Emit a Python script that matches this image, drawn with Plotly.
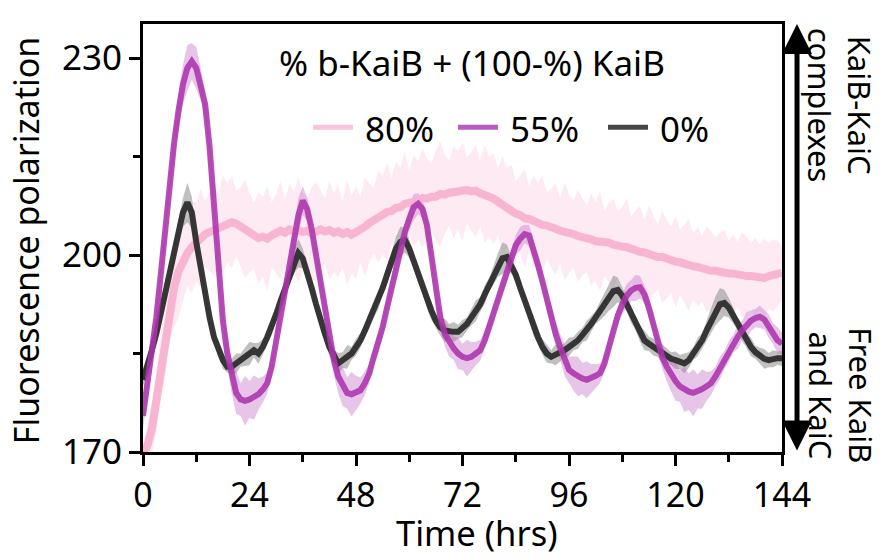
import plotly.graph_objects as go

# time axis (hours), one reading per hour
hours = list(range(0, 145))

# mean fluorescence polarization, 0% b-KaiB
fp_0 = [181, 183, 185.5, 188, 191, 194, 197, 200.5, 203.5, 206.5,
        208, 206.5, 202, 198, 194, 190.5, 187.5, 185.5, 184, 183,
        183, 183.5, 184, 184.5, 185, 185.5, 185, 186, 187.5, 189,
        191, 193, 195, 197, 199, 200.3, 199.5, 197.5, 195, 192.5,
        190, 188, 186, 184.5, 183.5, 184, 184.5, 185, 186, 187,
        188.5, 190, 191.5, 193, 195, 197, 199, 201, 202, 202.3,
        201, 199, 197, 195, 193, 191.5, 190, 189, 188.5, 188.3,
        188.3, 188.3, 188.8, 189.5, 190.5, 191.5, 192.5, 194, 195.5, 197,
        198.5, 199.5, 199.7, 198.5, 197, 195, 193, 191, 189, 187.5,
        186, 185, 184.5, 184.8, 185, 185.5, 186, 186.5, 187, 187.8,
        188.5, 189.5, 190.5, 191.5, 192.5, 193.5, 194.5, 194.7, 193.8, 192.5,
        191, 189.5, 188, 187, 186.5, 186, 185.5, 185, 184.6, 184.2,
        184, 183.7, 183.5, 184, 185, 186, 187, 188.5, 190, 191.5,
        192.5, 192.7, 192, 190.8, 189.5, 188.2, 187, 186, 185.2, 184.7,
        184.2, 184, 184.2, 184.3, 184.3]

# mean fluorescence polarization, 55% b-KaiB
fp_55 = [175.5, 180, 185, 190.5, 197, 204, 211, 217, 222, 226,
         228.5, 229.5, 228.5, 226, 223, 216.5, 207, 198, 190, 185,
         181.5, 179, 178, 177.8, 178, 178.3, 178.8, 179.5, 180.5, 183,
         187, 191, 194.5, 198.5, 202.5, 206, 208.3, 207, 204, 200,
         196, 191.5, 187.5, 184, 181.5, 180, 179, 178.8, 179, 179.4,
         180.5, 182, 184.5, 186.5, 189, 192, 195, 198.5, 201, 203.5,
         205.5, 207.3, 207.8, 207, 204.5, 200, 194, 190.5, 188, 186.7,
         185.8, 185, 184.5, 184.3, 184.5, 185, 185.5, 187, 189, 191,
         193.5, 195.5, 197.5, 199.5, 201.5, 202.5, 203.2, 203, 201, 198.5,
         196, 193, 190.5, 188, 186, 184, 182.5, 182, 181.5, 181.2,
         181, 181.2, 181.6, 182, 183.5, 186, 188.5, 190.8, 192.5, 193.8,
         194.6, 195, 195.1, 194, 192, 189.5, 186.5, 184.5, 183, 181.8,
         180.8, 180, 179.5, 179.2, 179, 179.2, 179.6, 180, 180.5, 181.5,
         182.8, 184, 185.3, 186.5, 187.5, 188.5, 189.3, 190, 190.4, 190.6,
         190.2, 189.2, 188, 187, 186.5]

# mean fluorescence polarization, 80% b-KaiB
fp_80 = [169.5, 171, 173.5, 178, 183, 187.5, 192, 195, 197.5, 199,
         200.3, 201.2, 202, 202.6, 203.2, 203.5, 203.8, 204.3, 204.6, 204.9,
         205, 204.8, 204.3, 204, 203.4, 203, 202.6, 202.8, 202.5, 203,
         203.3, 203.7, 203.4, 203.9, 203.6, 203.8, 203.5, 203.7, 203.3, 203.6,
         203.9, 203.6, 203.8, 203.4, 203.6, 203.2, 203.5, 203.1, 203.4, 203.9,
         204.3, 204.9, 205.2, 205.8, 206.1, 206.6, 206.7, 207.2, 207.3, 207.8,
         207.9, 208.3, 208.3, 208.7, 208.6, 208.9, 208.9, 209.3, 209.2, 209.5,
         209.6, 209.8, 209.7, 209.9, 209.7, 209.8, 209.4, 209.3, 208.9, 208.6,
         208.1, 207.6, 207.1, 206.8, 206.3, 206.1, 205.6, 205.5, 205.1, 205.0,
         204.6, 204.5, 204.1, 204.0, 203.7, 203.6, 203.3, 203.2, 202.9, 202.8,
         202.5, 202.4, 202.1, 202.1, 201.8, 201.9, 201.6, 201.6, 201.3, 201.2,
         200.9, 200.8, 200.5, 200.4, 200.1, 200.0, 199.7, 199.7, 199.4, 199.3,
         199.0, 198.9, 198.6, 198.5, 198.3, 198.2, 197.9, 197.9, 197.6, 197.6,
         197.4, 197.4, 197.2, 197.2, 197.0, 197.0, 196.8, 196.8, 196.6, 196.6,
         196.5, 196.8, 196.9, 197.2, 197.3]

# replicate spread (half-width of the shaded band)
sd_0 = [1.0, 1.2, 0.8, 1.1, 0.9, 1.2, 1.0, 1.4, 1.6, 2.2,
        3.0, 2.4, 1.5, 1.1, 0.9, 1.2, 0.8, 1.0, 1.3, 0.9,
        1.2, 1.5, 1.0, 1.4, 1.8, 1.1, 1.6, 1.2, 1.0, 1.3,
        0.9, 1.2, 1.0, 1.4, 1.8, 2.2, 1.5, 1.1, 1.0, 1.3,
        0.9, 1.2, 1.4, 1.1, 1.6, 1.2, 1.8, 1.0, 1.3, 1.1,
        0.9, 1.2, 1.0, 1.3, 1.1, 1.5, 1.2, 1.8, 2.3, 1.9,
        1.4, 1.0, 1.2, 0.9, 1.1, 1.4, 1.0, 1.3, 1.8, 1.2,
        1.5, 1.1, 1.3, 1.0, 1.2, 1.6, 1.1, 1.4, 1.0, 1.5,
        1.8, 2.4, 1.9, 1.3, 1.0, 1.2, 0.9, 1.1, 1.3, 1.0,
        1.2, 1.4, 1.0, 1.6, 1.2, 1.1, 1.4, 1.0, 1.3, 1.1,
        1.5, 1.2, 1.0, 1.4, 1.8, 2.0, 2.4, 1.9, 1.4, 1.1,
        1.3, 1.0, 1.2, 1.5, 1.1, 1.3, 1.0, 1.4, 1.2, 1.0,
        1.3, 1.1, 1.5, 1.2, 1.0, 1.4, 1.1, 1.6, 1.9, 2.2,
        2.5, 2.0, 1.5, 1.2, 1.0, 1.3, 1.1, 1.4, 1.0, 1.2,
        1.5, 1.1, 1.3, 1.0, 1.2]

sd_55 = [2.0, 1.5, 1.8, 1.4, 1.6, 1.9, 1.5, 2.2, 2.6, 3.0,
         3.5, 2.8, 3.2, 2.5, 2.0, 1.6, 1.4, 1.8, 1.5, 2.2,
         2.6, 3.2, 2.5, 3.8, 2.8, 3.4, 2.4, 2.0, 1.6, 1.4,
         1.8, 1.5, 1.3, 1.6, 2.0, 2.6, 2.2, 1.8, 1.5, 1.3,
         1.6, 1.4, 1.8, 2.2, 2.6, 3.0, 2.4, 3.4, 2.6, 2.0,
         1.8, 1.5, 1.3, 1.6, 1.4, 1.2, 1.5, 1.8, 1.6, 1.4,
         1.7, 2.0, 1.6, 1.4, 1.8, 1.5, 1.3, 1.6, 1.9, 2.2,
         1.8, 2.4, 2.0, 2.8, 2.2, 1.8, 1.6, 1.4, 1.3, 1.5,
         1.2, 1.4, 1.6, 1.3, 1.5, 1.8, 1.4, 1.6, 1.3, 1.5,
         1.2, 1.4, 1.6, 1.8, 2.0, 2.4, 2.0, 2.6, 3.0, 2.4,
         2.8, 2.2, 1.8, 1.5, 1.3, 1.6, 1.4, 1.2, 1.5, 1.8,
         1.6, 2.0, 1.7, 1.4, 1.6, 1.3, 1.5, 1.8, 2.2, 2.6,
         3.0, 2.4, 3.4, 2.8, 3.6, 2.6, 3.0, 2.2, 1.8, 1.5,
         1.7, 1.4, 1.6, 1.3, 1.8, 1.5, 2.0, 1.6, 1.4, 1.7,
         1.5, 1.8, 1.6, 2.0, 1.7]

sd_80 = [2.0, 3.0, 4.0, 5.0, 5.0, 6.0, 5.0, 6.0, 7.0, 6.0,
         5.0, 7.0, 6.0, 7.5, 5.0, 6.0, 7.0, 5.0, 7.5, 6.0,
         7.0, 5.0, 6.0, 7.5, 6.0, 5.0, 7.0, 6.0, 8.0, 5.0,
         6.0, 7.5, 5.0, 7.0, 6.0, 8.0, 6.0, 5.0, 7.0, 7.5,
         6.0, 5.0, 7.5, 6.0, 7.0, 5.0, 8.0, 6.0, 7.0, 5.0,
         7.5, 6.0, 5.0, 7.0, 6.0, 7.5, 5.0, 7.0, 6.0, 8.0,
         5.0, 7.0, 6.0, 7.5, 6.0, 5.0, 7.0, 8.0, 6.0, 5.0,
         7.0, 6.0, 7.5, 5.0, 6.0, 7.0, 5.0, 7.5, 6.0, 7.0,
         5.0, 7.5, 6.0, 7.0, 5.0, 6.0, 7.5, 5.0, 7.0, 6.0,
         7.5, 5.0, 6.0, 7.0, 5.0, 7.5, 6.0, 5.0, 7.0, 6.0,
         5.0, 7.0, 6.0, 7.5, 5.0, 6.0, 7.0, 5.0, 6.0, 7.5,
         5.0, 6.0, 7.0, 5.0, 7.5, 6.0, 5.0, 7.0, 6.0, 5.0,
         7.0, 5.0, 6.0, 7.0, 5.0, 6.0, 5.0, 6.5, 6.0, 5.0,
         6.0, 6.5, 5.0, 6.0, 5.0, 6.5, 6.0, 5.0, 6.0, 5.0,
         6.0, 5.0, 5.5, 5.0, 4.0]

# name, mean, spread, line colour, band colour, line width, legend swatch colour
series = [
    ("80%", fp_80, sd_80, "rgba(247,178,208,0.95)", "rgba(253,214,231,0.50)", 8, "#fbc3de"),
    ("0%", fp_0, sd_0, "rgba(45,45,45,0.95)", "rgba(140,140,140,0.55)", 6, "#474747"),
    ("55%", fp_55, sd_55, "rgba(172,52,172,0.88)", "rgba(196,110,200,0.40)", 6, "#b95cc0"),
]
legend_order = ["80%", "55%", "0%"]

FONT = "Noto Sans, Open Sans, DejaVu Sans, sans-serif"

fig = go.Figure()

# shaded spread bands first, drawn under every mean line
for name, mean, sd, line_col, band_col, lw, sw in series:
    upper = [m + s for m, s in zip(mean, sd)]
    lower = [m - s for m, s in zip(mean, sd)]
    fig.add_trace(go.Scatter(
        x=hours + hours[::-1],
        y=upper + lower[::-1],
        fill="toself",
        fillcolor=band_col,
        line=dict(width=0),
        hoverinfo="skip",
        showlegend=False,
    ))

for name, mean, sd, line_col, band_col, lw, sw in series:
    fig.add_trace(go.Scatter(
        x=hours, y=mean, mode="lines", name=name,
        line=dict(color=line_col, width=lw),
        showlegend=False,
    ))

fig.update_layout(
    width=883, height=559,
    margin=dict(l=143, r=101, t=24, b=107),
    paper_bgcolor="white", plot_bgcolor="white",
    font=dict(family=FONT, size=34, color="black"),
    showlegend=False,
    xaxis=dict(
        range=[0, 144], tickmode="linear", tick0=0, dtick=24,
        ticks="outside", ticklen=11, tickwidth=3, tickcolor="black",
        minor=dict(dtick=12, ticks="outside", ticklen=7, tickwidth=3, tickcolor="black"),
        showline=True, linewidth=3, linecolor="black", mirror=True,
        showgrid=False, zeroline=False,
        tickfont=dict(size=34),
    ),
    yaxis=dict(
        range=[170, 235.2], tickmode="array", tickvals=[170, 200, 230],
        ticks="outside", ticklen=11, tickwidth=3, tickcolor="black",
        minor=dict(tickmode="array", tickvals=[185, 215], ticks="outside",
                   ticklen=7, tickwidth=3, tickcolor="black"),
        showline=True, linewidth=3, linecolor="black", mirror=True,
        showgrid=False, zeroline=False,
        tickfont=dict(size=35),
    ),
)

# axis titles
fig.add_annotation(
    text="Time (hrs)", xref="paper", yref="paper", x=0.523, y=-0.2477,
    showarrow=False, xanchor="center", yanchor="bottom", font=dict(size=34.5),
)
fig.add_annotation(
    text="Fluorescence polarization", xref="paper", yref="paper",
    x=-0.183, y=0.495, textangle=-90, showarrow=False,
    xanchor="center", yanchor="middle", font=dict(size=34),
)

# heading above the legend
fig.add_annotation(
    text="% b-KaiB + (100-%) KaiB", xref="paper", yref="paper",
    x=0.515, y=0.909, showarrow=False, font=dict(size=35),
    xanchor="center", yanchor="middle",
)

# legend row: swatch line + label for each condition
legend_swatch_x = {"80%": 0.266, "55%": 0.493, "0%": 0.7277}
swatch_len = 0.0626
legend_y = 0.759
colors = {s[0]: s[6] for s in series}
for name in legend_order:
    x0 = legend_swatch_x[name]
    fig.add_shape(
        type="line", xref="paper", yref="paper",
        x0=x0, x1=x0 + swatch_len, y0=legend_y, y1=legend_y,
        line=dict(color=colors[name], width=5),
    )
    fig.add_annotation(
        text=name, xref="paper", yref="paper", x=x0 + swatch_len + 0.0155, y=legend_y - 0.004,
        showarrow=False, xanchor="left", yanchor="middle", font=dict(size=35),
    )

# double-headed arrow along the right side
fig.add_annotation(
    xref="paper", yref="paper", x=1.0235, y=1.0,
    ax=0, ay=428, axref="pixel", ayref="pixel",
    text="", showarrow=True, arrowhead=2, arrowside="end+start",
    arrowsize=1.2, arrowwidth=5, arrowcolor="black", standoff=0, startstandoff=0,
)

fig.add_annotation(
    text="KaiB-KaiC<br>complexes", xref="paper", yref="paper",
    x=1.091, y=0.811, textangle=90, showarrow=False,
    xanchor="center", yanchor="middle",
    font=dict(size=31), align="center",
)
fig.add_annotation(
    text="Free KaiB<br>and KaiC", xref="paper", yref="paper",
    x=1.092, y=0.133, textangle=90, showarrow=False,
    xanchor="center", yanchor="middle",
    font=dict(size=31), align="center",
)

fig.write_html("out.html")
